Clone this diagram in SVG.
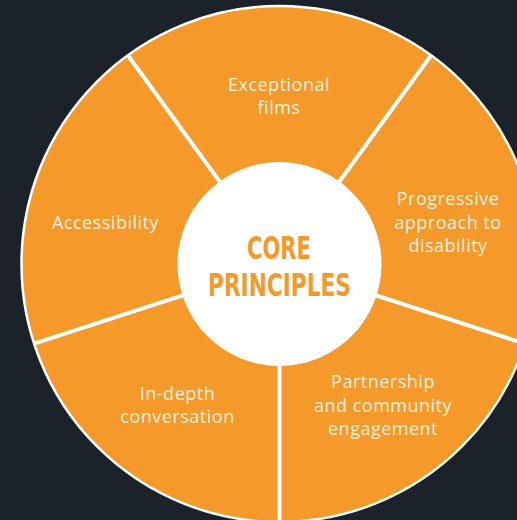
<svg xmlns="http://www.w3.org/2000/svg" width="517" height="520" viewBox="0 0 517 520">
<style>
.seg{fill:#f5992b}
.lbl{font-family:"Open Sans","Lato","DejaVu Sans",sans-serif;font-size:18px;fill:#fdf1de;text-anchor:middle;letter-spacing:0.5px}
.div{stroke:#ffffff;stroke-width:4;fill:none}
.core{font-family:"Liberation Sans Narrow","DejaVu Sans Condensed","Liberation Sans",sans-serif;font-weight:bold;font-size:32px;fill:#f39a2c;text-anchor:middle}
</style>
<rect width="517" height="520" fill="#1b222a"/>
<g id="seg-films">
<path class="seg" d="M279.5 264 L127.85 55.28 A258 258 0 0 1 431.15 55.28 Z"/>
<text class="lbl" x="279" y="91">Exceptional</text>
<text class="lbl" x="279" y="114">films</text>
</g>
<g id="seg-disability">
<path class="seg" d="M279.5 264 L431.15 55.28 A258 258 0 0 1 524.88 343.72 Z"/>
<text class="lbl" x="448" y="205">Progressive</text>
<text class="lbl" x="448" y="229">approach to</text>
<text class="lbl" x="448" y="252">disability</text>
</g>
<g id="seg-partnership">
<path class="seg" d="M279.5 264 L524.88 343.72 A258 258 0 0 1 279.5 522 Z"/>
<text class="lbl" x="383" y="388">Partnership</text>
<text class="lbl" x="383" y="412">and community</text>
<text class="lbl" x="383" y="435">engagement</text>
</g>
<g id="seg-conversation">
<path class="seg" d="M279.5 264 L279.5 522 A258 258 0 0 1 34.12 343.72 Z"/>
<text class="lbl" x="177.5" y="400">In-depth</text>
<text class="lbl" x="177.5" y="423">conversation</text>
</g>
<g id="seg-accessibility">
<path class="seg" d="M279.5 264 L34.12 343.72 A258 258 0 0 1 127.85 55.28 Z"/>
<text class="lbl" x="105.5" y="229">Accessibility</text>
</g>
<g id="connectors">
<line class="div" x1="279.5" y1="264" x2="127.85" y2="55.28"/>
<line class="div" x1="279.5" y1="264" x2="431.15" y2="55.28"/>
<line class="div" x1="279.5" y1="264" x2="524.88" y2="343.72"/>
<line class="div" x1="279.5" y1="264" x2="279.5" y2="522"/>
<line class="div" x1="279.5" y1="264" x2="34.12" y2="343.72"/>
<circle cx="279.5" cy="264" r="258" fill="none" stroke="#ffffff" stroke-width="2.5"/>
</g>
<g id="core">
<circle cx="279.5" cy="264" r="102" fill="#ffffff"/>
<text class="core" x="279" y="259" textLength="64" lengthAdjust="spacingAndGlyphs">CORE</text>
<text class="core" x="279.5" y="296" textLength="143" lengthAdjust="spacingAndGlyphs">PRINCIPLES</text>
</g>
</svg>
